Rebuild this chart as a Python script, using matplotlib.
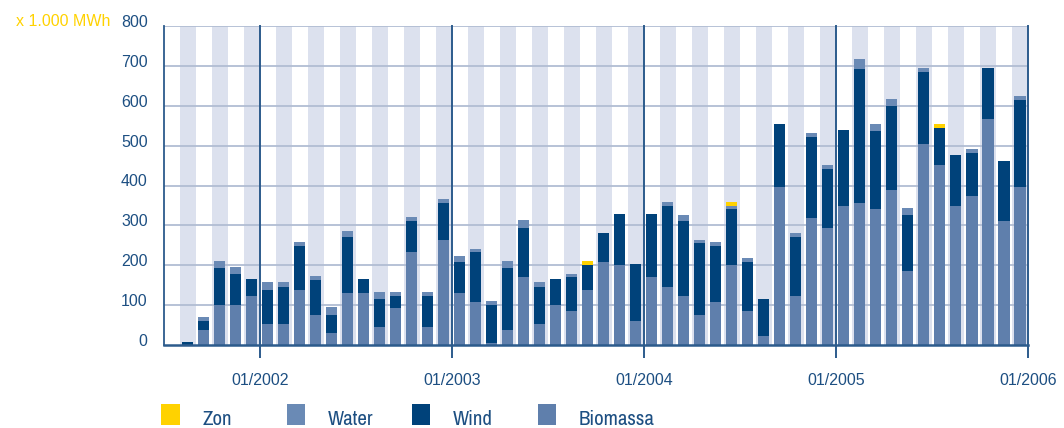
import matplotlib
matplotlib.use("Agg")
import matplotlib.pyplot as plt
from matplotlib.patches import Patch, Rectangle
from matplotlib.legend_handler import HandlerPatch
from matplotlib.transforms import ScaledTranslation
import numpy as np
import pandas as pd

# ---- data (x 1.000 MWh), monthly Aug 2001 .. Dec 2005 ----
months = pd.date_range("2001-08-01", "2005-12-01", freq="MS")

biomassa = [0, 38, 101, 101, 123,
            53, 53, 138, 76, 31, 131, 131, 46, 93, 233, 46, 263,
            131, 108, 6, 38, 171, 53, 101, 86, 138, 208, 201, 61,
            171, 146, 123, 76, 108, 201, 86, 23, 396, 123, 318, 293,
            348, 356, 341, 388, 186, 503, 451, 348, 373, 566, 311, 396]
wind = [8, 23, 92, 77, 43,
        85, 93, 110, 87, 45, 140, 35, 70, 30, 78, 77, 93,
        77, 125, 95, 155, 122, 93, 65, 85, 63, 73, 127, 142,
        157, 202, 188, 180, 140, 140, 122, 93, 157, 148, 203, 148,
        190, 335, 195, 210, 140, 180, 92, 128, 108, 127, 150, 217]
water = [0, 10, 18, 18, 0,
         20, 12, 10, 10, 20, 15, 0, 17, 10, 10, 10, 10,
         15, 8, 10, 18, 20, 12, 0, 7, 0, 0, 0, 0,
         0, 10, 15, 7, 10, 7, 10, 0, 0, 10, 10, 10,
         0, 25, 17, 18, 17, 10, 0, 0, 10, 0, 0, 10]
zon = [0, 0, 0, 0, 0,
       0, 0, 0, 0, 0, 0, 0, 0, 0, 0, 0, 0,
       0, 0, 0, 0, 0, 0, 0, 0, 10, 0, 0, 0,
       0, 0, 0, 0, 0, 10, 0, 0, 0, 0, 0, 0,
       0, 0, 0, 0, 0, 0, 10, 0, 0, 0, 0, 0]

series_names = ["Zon", "Water", "Wind", "Biomassa"]
y_ticks = [0, 100, 200, 300, 400, 500, 600, 700, 800]
x_tick_labels = ["01/2002", "01/2003", "01/2004", "01/2005", "01/2006"]
unit_label = "x 1.000 MWh"

# ---- styles ----
C_ZON = "#ffd200"
C_WATER = "#6a8ab5"
C_WIND = "#00427a"
C_BIO = "#5f7fac"
C_STRIPE = "#dce1ee"
C_GRID = "#b1bdd3"
C_AXIS = "#2c5b8c"
C_TEXT = "#1d4f82"
REG = "Liberation Sans"
NARROW = "Archivo Narrow"

plt.rcParams["font.family"] = "sans-serif"
plt.rcParams["font.sans-serif"] = [REG]

W, H = 1064, 428
fig = plt.figure(figsize=(W / 100, H / 100), dpi=100)
ax = fig.add_axes([163.7 / W, 1 - 345.3 / H, (1028 - 163.7) / W, (345.3 - 25.7) / H])

start = pd.Timestamp("2001-07-01")
x = np.array([(m.year - start.year) * 12 + (m.month - start.month) for m in months]) + 0.5
n_slots = 54

# background stripes
for i in range(1, n_slots, 2):
    ax.axvspan(i, i + 1, color=C_STRIPE, lw=0, zorder=0)

# gridlines
for v in y_ticks[1:]:
    ax.axhline(v, color=C_GRID, lw=1.3, zorder=1)

bio = np.array(biomassa, float)
wi = np.array(wind, float)
wa = np.array(water, float)
zo = np.array(zon, float)
bw = 0.69
ax.bar(x, bio, width=bw, color=C_BIO, lw=0, zorder=2)
ax.bar(x, wi, bottom=bio, width=bw, color=C_WIND, lw=0, zorder=2)
ax.bar(x, wa, bottom=bio + wi, width=bw, color=C_WATER, lw=0, zorder=2)
ax.bar(x, zo, bottom=bio + wi + wa, width=bw, color=C_ZON, lw=0, zorder=2)

year_pos = [6, 18, 30, 42, 54]
for p in year_pos:
    ax.axvline(p, color=C_AXIS, lw=1.4, zorder=3, clip_on=False)

ax.set_xlim(0, n_slots)
ax.set_ylim(0, 800)

for s in ["top", "right"]:
    ax.spines[s].set_visible(False)
ax.spines["left"].set_color(C_AXIS)
ax.spines["left"].set_linewidth(1.3)
ax.spines["bottom"].set_color(C_AXIS)
ax.spines["bottom"].set_linewidth(1.8)
ax.spines["left"].set_zorder(4)
ax.spines["bottom"].set_zorder(4)

ax.set_yticks(y_ticks)
ax.set_yticklabels([str(v) for v in y_ticks], fontfamily=REG)
ax.tick_params(axis="y", length=0, pad=11.5, labelsize=11.5, labelcolor=C_TEXT)
off = ScaledTranslation(0, 5 / 100, fig.dpi_scale_trans)
for lab in ax.get_yticklabels():
    lab.set_transform(lab.get_transform() + off)

ax.set_xticks(year_pos)
ax.set_xticklabels(x_tick_labels, fontfamily=REG)
ax.tick_params(axis="x", length=9.5, width=1.4, color=C_AXIS, pad=10.5,
               labelsize=11.5, labelcolor=C_TEXT)

fig.text(110 / W, 1 - 21 / H, unit_label, color=C_ZON, fontsize=11.5,
         ha="right", va="center", fontfamily=REG)


# legend: square sits on the text baseline, four entries on a fixed pitch
def square(legend, orig_handle, xdescent, ydescent, width, height, fontsize):
    return Rectangle((-xdescent, -ydescent), width, 14.9)


colors = [C_ZON, C_WATER, C_WIND, C_BIO]
leg_x = [161.3, 286.7, 412.0, 537.7]
for name, c, lx in zip(series_names, colors, leg_x):
    h = Patch(facecolor=c, edgecolor="none")
    lg = fig.legend(handles=[h], labels=[name], loc="lower left",
                    bbox_to_anchor=(lx / W, 1 - 429.0 / H), frameon=False,
                    borderpad=0, borderaxespad=0, handlelength=0.88,
                    handleheight=0.7, handletextpad=1.1,
                    handler_map={Patch: HandlerPatch(patch_func=square)},
                    prop={"family": NARROW, "size": 15})
    for t in lg.get_texts():
        t.set_color(C_TEXT)

fig.savefig("out.png", dpi=100)
